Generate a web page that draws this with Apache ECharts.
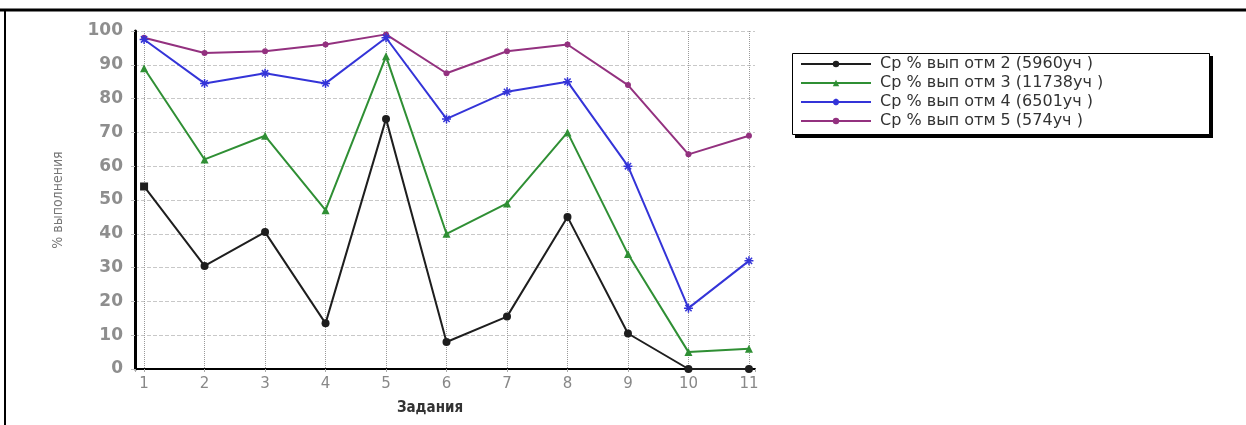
<!DOCTYPE html>
<html>
<head>
<meta charset="utf-8">
<script src="https://cdn.jsdelivr.net/npm/echarts@6/dist/echarts.min.js"></script>
<style>
html,body{margin:0;padding:0;background:#fff;}
#chart{width:1246px;height:425px;}
</style>
</head>
<body>
<div id="chart"></div>
<script>
const tasks = [1,2,3,4,5,6,7,8,9,10,11];
const seriesNames = [
  'Ср % вып отм 2 (5960уч )',
  'Ср % вып отм 3 (11738уч )',
  'Ср % вып отм 4 (6501уч )',
  'Ср % вып отм 5 (574уч )'
];
const mark2 = [54, 30.5, 40.5, 13.5, 74, 8, 15.5, 45, 10.5, 0, 0];
const mark3 = [89, 62, 69, 47, 92.5, 40, 49, 70, 34, 5, 6];
const mark4 = [97.5, 84.5, 87.5, 84.5, 98, 74, 82, 85, 60, 18, 32];
const mark5 = [98, 93.5, 94, 96, 99, 87.5, 94, 96, 84, 63.5, 69];
const yTicks = [0,10,20,30,40,50,60,70,80,90,100];

const colors = ['#1e1e1e', '#2f8f34', '#3434d8', '#93317f'];
const symbols = ['circle', 'triangle', 'path://M0,-1L0,1M-1,0L1,0M-0.7,-0.7L0.7,0.7M-0.7,0.7L0.7,-0.7', 'circle'];
const symSizes = [8, 8, 9, 6];
const datasets = [mark2, mark3, mark4, mark5];

const chart = echarts.init(document.getElementById('chart'), null, {renderer: 'canvas'});
const option = {
  backgroundColor: '#fff',
  animation: false,
  grid: {left: 135, right: 491, top: 31, bottom: 56, containLabel: false},
  xAxis: {
    type: 'value',
    min: 0.85,
    max: 11.1,
    splitNumber: 10,
    name: 'Задания',
    nameLocation: 'middle',
    nameGap: 32,
    nameTextStyle: {fontFamily: 'DejaVu Sans Condensed', fontWeight: 'bold', fontSize: 15, color: '#333', padding: [0, 30, 0, 0]},
    axisLine: {show: true, onZero: false, lineStyle: {color: '#000', width: 2}},
    axisTick: {show: true, length: 3, lineStyle: {color: '#aaa'}},
    axisLabel: {
      margin: 8,
      fontFamily: 'DejaVu Sans',
      fontSize: 15,
      color: '#888',
      formatter: function (v) { return tasks.indexOf(v) >= 0 ? String(v) : ''; }
    },
    splitLine: {show: true, showMinLine: false, showMaxLine: false, lineStyle: {type: 'dotted', color: '#999', width: 1}}
  },
  yAxis: {
    type: 'value',
    min: 0,
    max: 100,
    interval: 10,
    name: '% выполнения',
    nameLocation: 'middle',
    nameRotate: 90,
    nameGap: 70,
    nameTextStyle: {fontFamily: 'DejaVu Sans Condensed', fontSize: 14, color: '#777', padding: [0, 0, 0, 0]},
    axisLine: {show: true, lineStyle: {color: '#000', width: 3}},
    axisTick: {show: true, length: 4, lineStyle: {color: '#bbb'}},
    axisLabel: {
      margin: 12,
      fontFamily: 'DejaVu Sans',
      fontWeight: 'bold',
      fontSize: 17,
      color: '#8e8e8e',
      formatter: function (v) { return yTicks.indexOf(v) >= 0 ? String(v) : ''; }
    },
    splitLine: {show: true, showMinLine: false, lineStyle: {type: 'dashed', color: '#c8c8c8', width: 1}}
  },
  legend: {
    orient: 'vertical',
    left: 792,
    top: 54,
    z: 10,
    itemWidth: 70,
    itemHeight: 8,
    itemGap: 3,
    padding: [2, 10, 2, 8],
    textStyle: {fontFamily: 'DejaVu Sans', fontSize: 16, lineHeight: 16, color: '#333', padding: [0, 0, 0, 4]},
    data: seriesNames
  },
  graphic: [
    {type: 'line', z: 1, shape: {x1: 0, y1: 10, x2: 1246, y2: 10}, style: {stroke: '#000', lineWidth: 3}},
    {type: 'line', z: 1, shape: {x1: 5, y1: 10, x2: 5, y2: 425}, style: {stroke: '#000', lineWidth: 2}},
    {type: 'rect', z: 1, shape: {x: 795, y: 56, width: 418, height: 82}, style: {fill: '#000'}},
    {type: 'rect', z: 2, shape: {x: 792.5, y: 53.5, width: 417, height: 81}, style: {fill: '#fff', stroke: '#000', lineWidth: 1}}
  ],
  series: datasets.map(function (d, i) {
    return {
      name: seriesNames[i],
      type: 'line',
      data: tasks.map(function (t, j) {
        if (i === 0 && j === 0) return {value: [t, d[j]], symbol: 'rect'};
        return [t, d[j]];
      }),
      symbol: symbols[i],
      symbolSize: symSizes[i],
      showAllSymbol: true,
      color: colors[i],
      lineStyle: {color: colors[i], width: 2},
      itemStyle: {color: colors[i], borderColor: colors[i], borderWidth: i === 2 ? 1.5 : 0},
      z: 10 - i
    };
  })
};
chart.setOption(option);
</script>
</body>
</html>
